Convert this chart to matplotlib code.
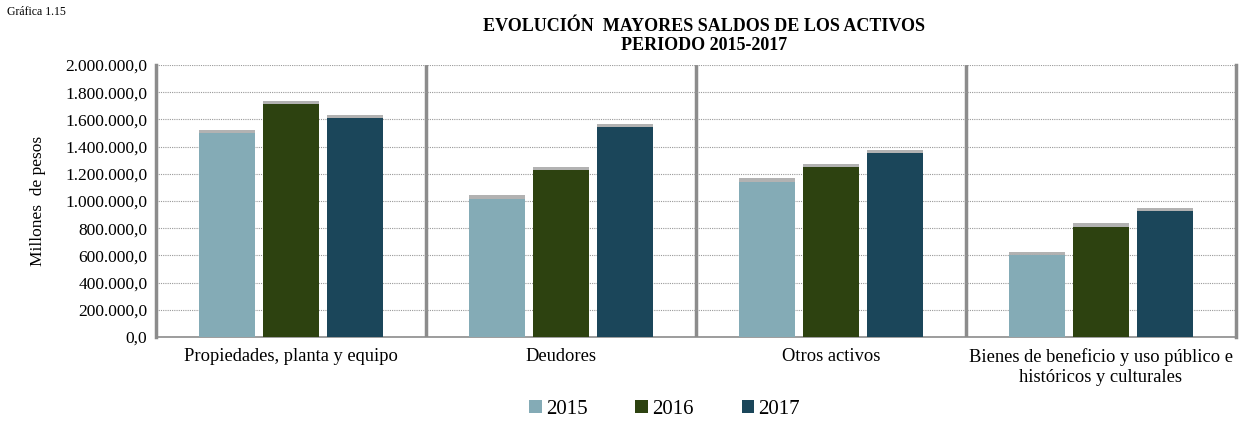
import numpy as np
import matplotlib.pyplot as plt
import matplotlib.patheffects as pe
from matplotlib.patches import Patch
from matplotlib.ticker import FuncFormatter

plt.rcParams['font.family'] = ['Liberation Serif', 'DejaVu Serif']

# datos
categorias = ['Propiedades, planta y equipo', 'Deudores', 'Otros activos',
              'Bienes de beneficio y uso público e\nhistóricos y culturales']
anios = ['2015', '2016', '2017']
v2015 = [1500000, 1015000, 1140000, 603000]
v2016 = [1713000, 1228000, 1250000, 810000]
v2017 = [1610000, 1544000, 1353000, 926000]
colores = ['#84abb6', '#2d4210', '#1b465a']

fig = plt.figure(figsize=(12.46, 4.21), dpi=100)
ax = fig.add_axes([0.125, 0.1995, 0.867, 0.6461])

x = np.arange(len(categorias))
ancho = 0.207
paso = 0.237
sombra = [pe.SimplePatchShadow(offset=(0, 2.5), shadow_rgbFace='#666666', alpha=0.5), pe.Normal()]
for i, (vals, c) in enumerate(zip([v2015, v2016, v2017], colores)):
    bars = ax.bar(x + (i - 1) * paso, vals, ancho, color=c, zorder=3)
    for b in bars:
        b.set_path_effects(sombra)

ax.set_xlim(-0.5, len(categorias) - 0.5)
ax.set_ylim(0, 2000000)
ax.set_yticks(np.arange(0, 2000001, 200000))

def fmt(v, pos):
    s = f'{int(v):,}'.replace(',', '.')
    return s + ',0'
ax.yaxis.set_major_formatter(FuncFormatter(fmt))

ax.set_xticks(x)
ax.set_xticklabels(categorias, fontsize=13.3)
ax.tick_params(axis='x', length=0, pad=8)
ax.tick_params(axis='y', length=0, labelsize=12.5, pad=6)

# grilla
ax.yaxis.grid(True, linestyle=(0, (1, 1)), color='#999999', linewidth=0.8, zorder=0)
for sep in x[1:] - 0.5:
    ax.axvline(sep, color='#8c8c8c', linewidth=2.5, zorder=1)

ax.spines['top'].set_visible(False)
ax.spines['left'].set_color('#8c8c8c')
ax.spines['left'].set_linewidth(2.5)
ax.spines['right'].set_color('#8c8c8c')
ax.spines['right'].set_linewidth(2.5)
ax.spines['bottom'].set_color('#8c8c8c')
ax.spines['bottom'].set_linewidth(1.2)

ax.set_ylabel('Millones  de pesos', fontsize=12.5, labelpad=14)

fig.text(0.565, 0.936, 'EVOLUCIÓN  MAYORES SALDOS DE LOS ACTIVOS', ha='center', va='center',
         fontsize=13, fontweight='bold')
fig.text(0.565, 0.893, 'PERIODO 2015-2017', ha='center', va='center', fontsize=13, fontweight='bold')
fig.text(0.006, 0.971, 'Gráfica 1.15', ha='left', va='center', fontsize=8.5)

# leyenda sin sombra
handles = [Patch(facecolor=c, label=a) for a, c in zip(anios, colores)]
ax.legend(handles=handles, loc='center', bbox_to_anchor=(0.471, -0.265), ncol=3, frameon=False,
          fontsize=15, handlelength=0.6, handleheight=0.6, handletextpad=0.2, columnspacing=2.3)

fig.savefig('out.png', dpi=100)
